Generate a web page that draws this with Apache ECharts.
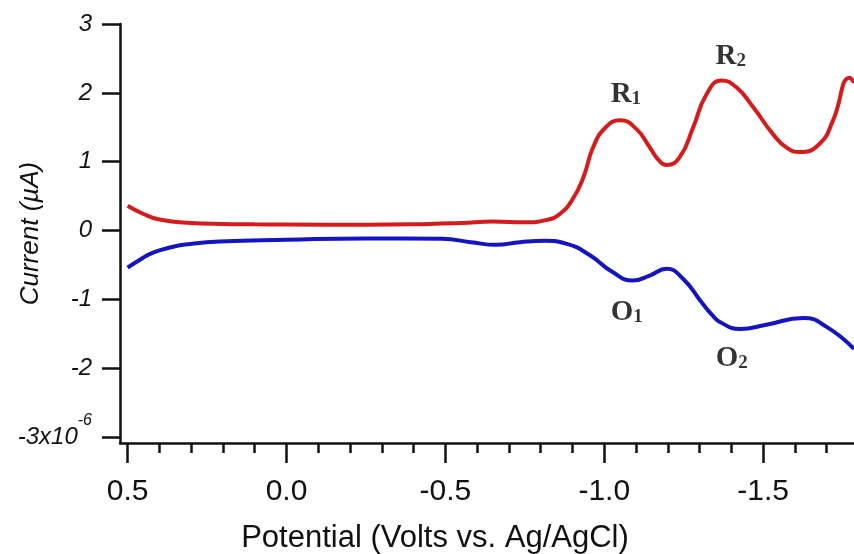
<!DOCTYPE html>
<html>
<head>
<meta charset="utf-8">
<script src="https://cdn.jsdelivr.net/npm/echarts@6/dist/echarts.min.js"></script>
<style>html,body{margin:0;padding:0;background:#fff}#c{width:854px;height:554px}</style>
</head>
<body>
<div id="c"></div>
<script>
// Reduction (red) trace: potential (V vs Ag/AgCl) and current (µA)
var redPotential = [0.5, 0.45, 0.4, 0.3, 0.2, 0.1, 0.0, -0.25, -0.45, -0.55, -0.65, -0.75, -0.82, -0.86, -0.9, -0.935, -0.965, -1.005, -1.05, -1.1, -1.143, -1.17, -1.196, -1.238, -1.28, -1.322, -1.369, -1.416, -1.469, -1.531, -1.575, -1.615, -1.678, -1.72, -1.772, -1.786];
var redCurrent   = [0.36, 0.24, 0.16, 0.11, 0.095, 0.09, 0.087, 0.083, 0.095, 0.11, 0.13, 0.12, 0.155, 0.24, 0.45, 0.78, 1.21, 1.50, 1.60, 1.48, 1.21, 1.03, 0.95, 1.07, 1.50, 1.98, 2.18, 2.08, 1.79, 1.40, 1.20, 1.14, 1.26, 1.60, 2.22, 2.15];
// Oxidation (blue) trace
var bluePotential = [0.5, 0.46, 0.42, 0.36, 0.31, 0.21, 0.0, -0.25, -0.49, -0.58, -0.66, -0.735, -0.815, -0.88, -0.955, -1.025, -1.09, -1.143, -1.196, -1.248, -1.31, -1.34, -1.364, -1.427, -1.51, -1.626, -1.70, -1.786];
var blueCurrent   = [-0.54, -0.42, -0.32, -0.24, -0.20, -0.16, -0.135, -0.116, -0.12, -0.17, -0.208, -0.17, -0.15, -0.19, -0.36, -0.60, -0.726, -0.654, -0.557, -0.70, -1.065, -1.23, -1.33, -1.43, -1.37, -1.27, -1.40, -1.72];
// Peak annotations
var annoLetter = ['R', 'R', 'O', 'O'];
var annoIndex = ['1', '2', '1', '2'];
var annoPotential = [-1.068, -1.398, -1.071, -1.401];
var annoCurrent = [1.98, 2.53, -1.19, -1.86];
// Axis ticks
var xMajorTicks = [0.5, 0.0, -0.5, -1.0, -1.5];
var xMinorTicks = [0.4, 0.3, 0.2, 0.1, -0.1, -0.2, -0.3, -0.4, -0.6, -0.7, -0.8, -0.9, -1.1, -1.2, -1.3, -1.4, -1.6, -1.7];
var yTicks = [-3, -2, -1, 0, 1, 2, 3];

function pairs(xs, ys) { return xs.map(function (x, i) { return [x, ys[i]]; }); }

var xMin = -1.786, xMax = 0.524, yMin = -3.087, yMax = 3;
var black = '#111';
var sans = 'Liberation Sans, Arial';
var chart = echarts.init(document.getElementById('c'));
chart.setOption({
  animation: false,
  backgroundColor: '#fff',
  grid: { left: 120, right: 0, top: 24, bottom: 111, containLabel: false, outerBoundsMode: 'none' },
  xAxis: [{
    type: 'value', inverse: true, min: xMin, max: xMax, position: 'bottom',
    splitLine: { show: false },
    axisLine: { show: true, onZero: false, lineStyle: { color: black, width: 2.5 } },
    axisTick: { show: true, length: 20, lineStyle: { color: black, width: 2.5 }, customValues: xMajorTicks },
    axisLabel: { customValues: xMajorTicks, margin: 34, color: black, fontSize: 30, fontFamily: sans,
      formatter: function (v) { return v.toFixed(1); } },
    name: 'Potential (Volts vs. Ag/AgCl)', nameLocation: 'middle', nameGap: 80, nameMoveOverlap: false,
    nameTextStyle: { color: black, fontSize: 31, fontFamily: sans, padding: [0, 104, 0, 0] }
  }, {
    type: 'value', inverse: true, min: xMin, max: xMax, position: 'bottom',
    splitLine: { show: false },
    axisLine: { show: false, onZero: false },
    axisTick: { show: true, length: 10, lineStyle: { color: black, width: 2.5 }, customValues: xMinorTicks },
    axisLabel: { show: false }
  }],
  yAxis: {
    type: 'value', min: yMin, max: yMax,
    splitLine: { show: false },
    axisLine: { show: true, onZero: false, lineStyle: { color: black, width: 2.5 } },
    axisTick: { show: true, length: 18, lineStyle: { color: black, width: 2.5 }, customValues: yTicks },
    axisLabel: { customValues: yTicks, margin: 28, color: black, fontSize: 24, fontStyle: 'italic', fontFamily: sans,
      formatter: function (v) { return v === -3 ? '{a|-3x10}{s|-6}' : String(v); },
      rich: {
        a: { fontSize: 24, fontStyle: 'italic', color: black, fontFamily: sans, lineHeight: 24, verticalAlign: 'bottom' },
        s: { fontSize: 16, fontStyle: 'italic', color: black, fontFamily: sans, lineHeight: 16, padding: [0, 0, 20, 0], verticalAlign: 'bottom' }
      } },
    name: 'Current (µA)', nameLocation: 'middle', nameGap: 76, nameMoveOverlap: false,
    nameTextStyle: { color: black, fontSize: 26, fontStyle: 'italic', fontFamily: sans }
  },
  series: [{
    type: 'line', data: pairs(redPotential, redCurrent), smooth: 0.5, showSymbol: false,
    lineStyle: { color: '#d41c1c', width: 4 }, itemStyle: { color: '#d41c1c' }, z: 3
  }, {
    type: 'line', data: pairs(bluePotential, blueCurrent), smooth: 0.5, showSymbol: false,
    lineStyle: { color: '#1414c0', width: 4 }, itemStyle: { color: '#1414c0' }, z: 3
  }, {
    type: 'scatter', symbolSize: 0, silent: true,
    data: annoPotential.map(function (x, i) { return [x, annoCurrent[i], i]; }),
    label: {
      show: true, position: 'inside',
      formatter: function (p) { var i = p.value[2]; return '{m|' + annoLetter[i] + '}{s|' + annoIndex[i] + '}'; },
      rich: {
        m: { fontSize: 29, fontWeight: 'bold', fontFamily: 'Liberation Serif, Times New Roman', color: '#000', verticalAlign: 'bottom' },
        s: { fontSize: 19, fontWeight: 'bold', fontFamily: 'Liberation Serif, Times New Roman', color: '#000', verticalAlign: 'bottom' }
      }
    }
  }]
});
</script>
</body>
</html>
